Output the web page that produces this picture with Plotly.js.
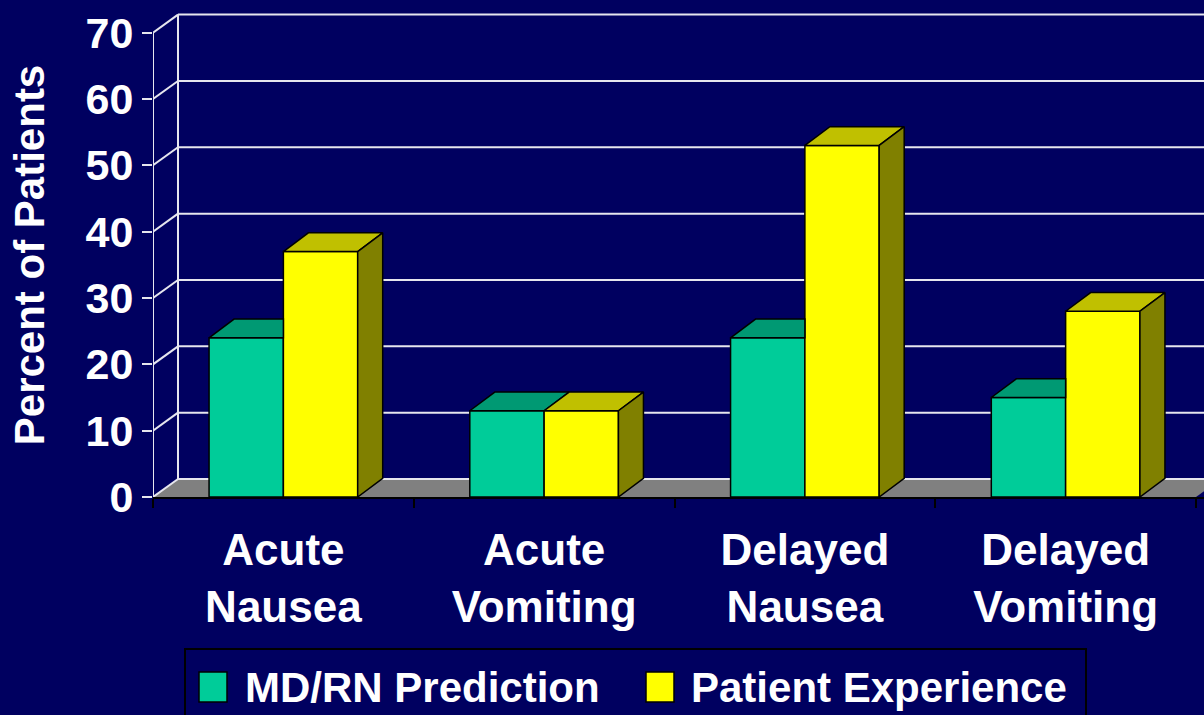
<!DOCTYPE html>
<html><head><meta charset="utf-8">
<script src="https://cdn.plot.ly/plotly-3.0.1.min.js"></script>
<style>html,body{margin:0;padding:0;background:#000060;}#chart{width:1204px;height:715px;}</style>
</head><body><div id="chart"></div>
<script>
// ---- data ----
const categories = ['Acute<br>Nausea', 'Acute<br>Vomiting', 'Delayed<br>Nausea', 'Delayed<br>Vomiting'];
const seriesNames = ['MD/RN Prediction', 'Patient Experience'];
const mdrnPrediction = [24, 13, 24, 15];
const patientExperience = [37, 13, 53, 28];
const yTickValues = [0, 10, 20, 30, 40, 50, 60, 70];
const yTickLabels = ['0', '10', '20', '30', '40', '50', '60', '70'];

// ---- geometry / style ----
const W = 1204, H = 715;
const L = 153, R = 0, T = 13, B = 218;
const plotW = W - L - R, plotH = H - T - B;
const pxPerCat = 260.75, pxPerUnit = 6.634;
const xMax = plotW / pxPerCat, yMax = plotH / pxPerUnit;
const depthX = 25 / pxPerCat, depthY = 18 / pxPerUnit;
const barDX = 25 / pxPerCat, barDY = 18.7 / pxPerUnit;
const barW = 0.285;
const FONT = 'Liberation Sans, Arial, sans-serif';
const BG = '#000060';
const GREEN = '#00CC99', GREEN_TOP = '#009973';
const YELLOW = '#FFFF00', YELLOW_TOP = '#C0C000', YELLOW_SIDE = '#808000';
const GRID = '#E6E6EE';

const nCat = categories.length;
const centers = categories.map((_, i) => i + 0.5);
const catBounds = Array.from({length: nCat + 1}, (_, i) => i);

// ---- bar front faces ----
const traces = [
  {type: 'bar', x: centers.map(c => c - barW / 2), y: mdrnPrediction, width: barW, base: 0,
   name: seriesNames[0], marker: {color: GREEN, line: {color: 'black', width: 1.5}}, showlegend: false, hoverinfo: 'skip'},
  {type: 'bar', x: centers.map(c => c + barW / 2), y: patientExperience, width: barW, base: 0,
   name: seriesNames[1], marker: {color: YELLOW, line: {color: 'black', width: 1.5}}, showlegend: false, hoverinfo: 'skip'}
];

// ---- 3D top and side faces (polygons from data values) ----
function polyTrace(polys, color) {
  const x = [], y = [];
  polys.forEach(p => { p.forEach(pt => { x.push(pt[0]); y.push(pt[1]); }); x.push(p[0][0]); y.push(p[0][1]); x.push(null); y.push(null); });
  return {type: 'scatter', mode: 'lines', x, y, fill: 'toself', fillcolor: color,
          line: {color: 'black', width: 1.5}, showlegend: false, hoverinfo: 'skip', connectgaps: false};
}
const greenTops = [], yellowTops = [], yellowSides = [];
centers.forEach((c, i) => {
  const g = mdrnPrediction[i], p = patientExperience[i];
  const gl = c - barW, gr = c, yr = c + barW;
  if (p > g) greenTops.push([[gl, g], [gr, g], [gr, g + barDY], [gl + barDX, g + barDY]]);
  else greenTops.push([[gl, g], [gr, g], [gr + barDX, g + barDY], [gl + barDX, g + barDY]]);
  yellowTops.push([[gr, p], [yr, p], [yr + barDX, p + barDY], [gr + barDX, p + barDY]]);
  yellowSides.push([[yr, 0], [yr + barDX, barDY], [yr + barDX, p + barDY], [yr, p]]);
});
traces.push(polyTrace(greenTops, GREEN_TOP));
traces.push(polyTrace(yellowTops, YELLOW_TOP));
traces.push(polyTrace(yellowSides, YELLOW_SIDE));

// ---- walls, floor, gridlines ----
const shapes = [];
shapes.push({type: 'path', xref: 'x', yref: 'y', layer: 'below',
  path: `M0,0 L${nCat},0 L${nCat + depthX},${depthY} L${depthX},${depthY} Z`,
  fillcolor: '#808080', line: {width: 0}});
yTickValues.forEach(v => {
  shapes.push({type: 'line', xref: 'x', yref: 'y', layer: 'below', x0: depthX, y0: v + depthY, x1: xMax + 1, y1: v + depthY,
    line: {color: GRID, width: 2}});
  shapes.push({type: 'line', xref: 'x', yref: 'y', layer: 'below', x0: 0, y0: v, x1: depthX, y1: v + depthY,
    line: {color: GRID, width: 2}});
});
const yTop = yTickValues[yTickValues.length - 1];
shapes.push({type: 'line', xref: 'x', yref: 'y', layer: 'below', x0: 0, y0: 0, x1: 0, y1: yTop, line: {color: GRID, width: 2}});
shapes.push({type: 'line', xref: 'x', yref: 'y', layer: 'below', x0: depthX, y0: depthY, x1: depthX, y1: yTop + depthY, line: {color: GRID, width: 2}});

// ---- custom legend ----
const xp = px => (px - L) / plotW;
const yp = py => (T + plotH - py) / plotH;
shapes.push({type: 'rect', xref: 'paper', yref: 'paper', x0: xp(185), x1: xp(1086), y0: yp(649), y1: yp(745),
  line: {color: 'black', width: 2}, fillcolor: 'rgba(0,0,0,0)'});
const legendItems = [
  {name: seriesNames[0], color: GREEN, sx: 199, tx: 243},
  {name: seriesNames[1], color: YELLOW, sx: 646, tx: 689}
];
const annotations = [];
legendItems.forEach(it => {
  shapes.push({type: 'rect', xref: 'paper', yref: 'paper', x0: xp(it.sx), x1: xp(it.sx + 28), y0: yp(672), y1: yp(702),
    fillcolor: it.color, line: {color: 'black', width: 1.5}});
  annotations.push({xref: 'paper', yref: 'paper', x: xp(it.tx), y: yp(687), xanchor: 'left', yanchor: 'middle',
    text: it.name, showarrow: false, font: {family: FONT, size: 42, weight: 'bold', color: 'white'}});
});

const layout = {
  width: W, height: H,
  margin: {l: L, r: R, t: T, b: B, pad: 0},
  paper_bgcolor: BG, plot_bgcolor: BG,
  barmode: 'overlay', showlegend: false,
  xaxis: {
    range: [0, xMax], tickmode: 'array', tickvals: centers, ticktext: categories, ticks: '',
    showgrid: false, zeroline: false, showline: true, linecolor: 'black', linewidth: 2,
    tickfont: {family: FONT, size: 44, weight: 'bold', color: 'white'},
    ticklabelstandoff: 13,
    minor: {tickmode: 'array', tickvals: catBounds, ticks: 'outside', ticklen: 9, tickwidth: 2, tickcolor: 'black', showgrid: false},
    fixedrange: true
  },
  yaxis: {
    range: [0, yMax], tickmode: 'array', tickvals: yTickValues, ticktext: yTickLabels,
    ticks: 'outside', ticklen: 10, tickwidth: 2, tickcolor: GRID,
    showgrid: false, zeroline: false, showline: false,
    tickfont: {family: FONT, size: 43, weight: 'bold', color: 'white'},
    title: {text: 'Percent of Patients', font: {family: FONT, size: 42, weight: 'bold', color: 'white'}, standoff: 27},
    fixedrange: true
  },
  shapes, annotations
};

Plotly.newPlot('chart', traces, layout, {staticPlot: true, displayModeBar: false});
</script>
</body></html>
